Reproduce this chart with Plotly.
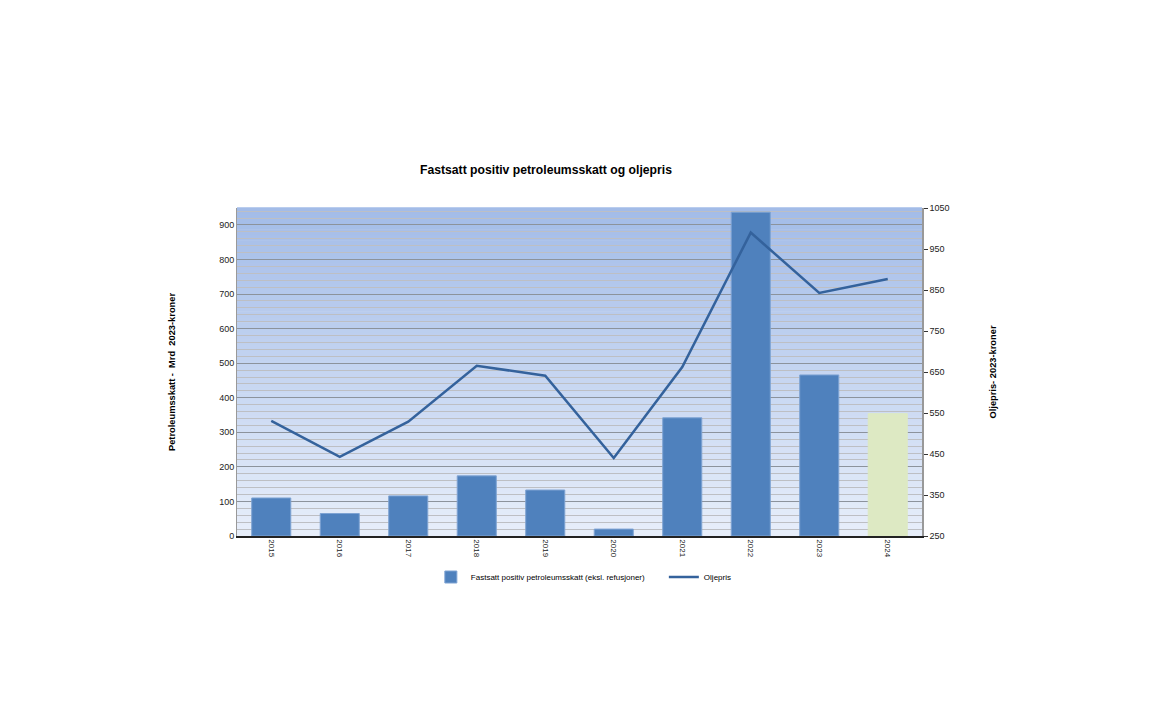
import plotly.graph_objects as go

years = ["2015", "2016", "2017", "2018", "2019", "2020", "2021", "2022", "2023", "2024"]
skatt = [110, 65, 116, 174, 133, 20, 342, 937, 466, 354]
oljepris = [531, 443, 529, 665, 641, 440, 662, 990, 843, 877]
bar_colors = ["#4f81bd"] * 9 + ["#dde9c3"]
bar_edges = ["#7ea3d3"] * 9 + ["#dde9c3"]

left_ticks = [0, 100, 200, 300, 400, 500, 600, 700, 800, 900]
right_ticks = [250, 350, 450, 550, 650, 750, 850, 950, 1050]

fig = go.Figure()
fig.add_trace(go.Bar(
    x=years, y=skatt, name="Fastsatt positiv petroleumsskatt (eksl. refusjoner)",
    marker=dict(color=bar_colors, line=dict(width=1, color=bar_edges)),
    width=0.57, yaxis="y",
))
fig.add_trace(go.Scatter(
    x=years, y=oljepris, name="Oljepris", mode="lines",
    line=dict(color="#34629c", width=2.5), yaxis="y2",
))

# background gradient (styling only)
n = 60
top = (163, 188, 232)
bot = (231, 238, 250)
shapes = []
for i in range(n):
    t = i / (n - 1)
    c = tuple(round(bot[k] + (top[k] - bot[k]) * t) for k in range(3))
    shapes.append(dict(type="rect", xref="x domain", yref="y domain",
                       x0=0, x1=1, y0=i / n, y1=(i + 1) / n + 0.002,
                       fillcolor="rgb(%d,%d,%d)" % c, line=dict(width=0), layer="below"))

font_fam = "Liberation Sans, Arial, sans-serif"
fig.update_layout(
    width=1152, height=720,
    margin=dict(l=229, r=238, t=200, b=192),
    paper_bgcolor="white", plot_bgcolor="rgba(0,0,0,0)",
    shapes=shapes,
    title=dict(text="<b>Fastsatt positiv petroleumsskatt og oljepris</b>",
               x=0.467, xanchor="center", y=0.775, yanchor="middle",
               font=dict(family=font_fam, size=12.2, color="black")),
    font=dict(family=font_fam, size=9, color="#222"),
    showlegend=True,
    legend=dict(orientation="h", x=0.283, xanchor="left", y=-0.125, yanchor="middle",
                font=dict(size=8, color="black"), itemwidth=30, tracegroupgap=0,
                entrywidthmode="pixels", entrywidth=188),
    xaxis=dict(tickangle=90, showline=True, linecolor="#222", linewidth=1.5,
               ticks="", tickfont=dict(size=8), showgrid=False),
    yaxis=dict(range=[0, 949], tickvals=left_ticks, showline=True, linecolor="#999",
               linewidth=1, ticks="", showgrid=True, gridcolor="#8c939c", gridwidth=1,
               minor=dict(dtick=20, tick0=0, showgrid=True, gridcolor="#bdbfc4", gridwidth=1),
               zeroline=False, tickfont=dict(size=9),
               title=dict(text="<b>Petroleumsskatt -  Mrd  2023-kroner</b>",
                          font=dict(size=9.3, color="black"), standoff=41)),
    yaxis2=dict(range=[250, 1050], tickvals=right_ticks, overlaying="y", side="right",
                showline=True, linecolor="#999", linewidth=1.5, ticks="outside",
                ticklen=4, tickcolor="#333", showgrid=False, zeroline=False,
                tickfont=dict(size=9),
                title=dict(text="<b>Oljepris- 2023-kroner</b>",
                           font=dict(size=9.3, color="black"), standoff=41)),
)

fig.write_html("out.html")
